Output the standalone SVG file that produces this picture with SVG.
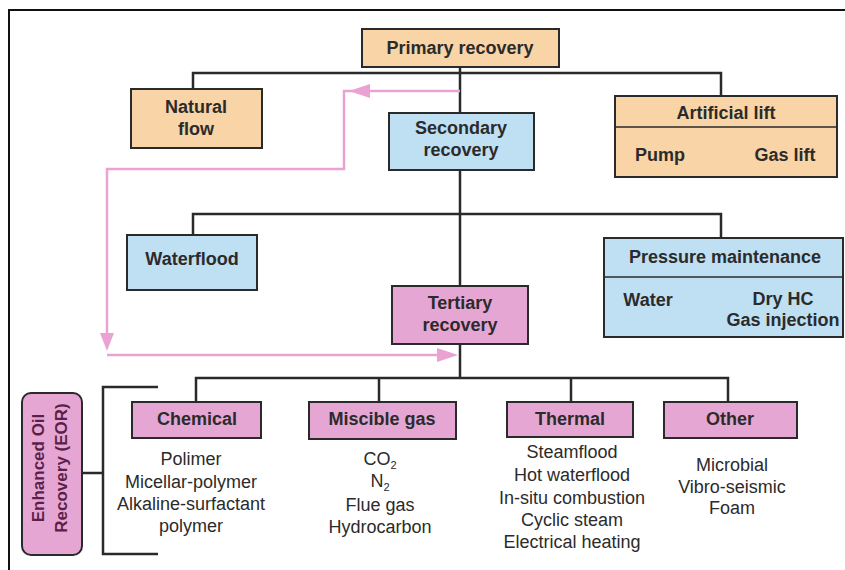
<svg xmlns="http://www.w3.org/2000/svg" width="845" height="570" viewBox="0 0 845 570">
<style>
.box{stroke:#2a2a2a;stroke-width:2}
.or{fill:#F9D4A6}
.bl{fill:#BFDFF2}
.pk{fill:#E6A6D3}
.lbl{font-family:"Liberation Sans",Arial,sans-serif;font-weight:bold;font-size:18px;fill:#2b2b2b;text-anchor:middle}
.lst{font-family:"Liberation Sans",Arial,sans-serif;font-size:18px;fill:#2b2b2b;text-anchor:middle}
.sub{font-size:11px}
.con{fill:none;stroke:#2a2a2a;stroke-width:2.5}
.pl{fill:none;stroke:#EAA2D2;stroke-width:2.5}
.ph{fill:#EAA2D2}
.eor{font-family:"Liberation Sans",Arial,sans-serif;font-weight:bold;font-size:17px;fill:#5a1f4a;text-anchor:middle}
</style>
<rect width="845" height="570" fill="#ffffff"/>
<path d="M9,570 V10 H845" fill="none" stroke="#111" stroke-width="2"/>

<g id="connectors">
<path class="con" d="M460,67 V113"/>
<path class="con" d="M193,89 V73 H721 V96"/>
<path class="con" d="M460,170 V286"/>
<path class="con" d="M193,235 V214 H721 V238"/>
<path class="con" d="M460,344 V378"/>
<path class="con" d="M196,402 V378 H728 V402"/>
<path class="con" d="M379,378 V402"/>
<path class="con" d="M571,378 V402"/>
<path class="con" d="M158,387 H103 V554 H158 M103,473 H82"/>
<path class="pl" d="M460,91 H344 V169 H107 V340"/>
<polygon class="ph" points="349,91 370,84 370,98"/>
<polygon class="ph" points="107,351 100,333 114,333"/>
<path class="pl" d="M107,355 H440"/>
<polygon class="ph" points="458,355 437,348 437,362"/>
</g>

<g id="primary">
<rect class="box or" x="362" y="29" width="197" height="38"/>
<text class="lbl" x="460" y="54">Primary recovery</text>
</g>
<g id="natural-flow">
<rect class="box or" x="131" y="89" width="131" height="59"/>
<text class="lbl" x="196" y="113">Natural</text>
<text class="lbl" x="196" y="135">flow</text>
</g>
<g id="artificial-lift">
<rect class="box or" x="615" y="96" width="222" height="81"/>
<line x1="615" y1="127" x2="837" y2="127" stroke="#2a2a2a" stroke-width="1.5"/>
<text class="lbl" x="726" y="119">Artificial lift</text>
<text class="lbl" x="660" y="161">Pump</text>
<text class="lbl" x="785" y="161">Gas lift</text>
</g>
<g id="secondary">
<rect class="box bl" x="389" y="113" width="145" height="57"/>
<text class="lbl" x="461" y="134">Secondary</text>
<text class="lbl" x="461" y="156">recovery</text>
</g>
<g id="waterflood">
<rect class="box bl" x="127" y="235" width="130" height="55"/>
<text class="lbl" x="192" y="265">Waterflood</text>
</g>
<g id="pressure-maintenance">
<rect class="box bl" x="604" y="238" width="239" height="99"/>
<line x1="604" y1="277" x2="843" y2="277" stroke="#2a2a2a" stroke-width="1.5"/>
<text class="lbl" x="725" y="263">Pressure maintenance</text>
<text class="lbl" x="648" y="306">Water</text>
<text class="lbl" x="783" y="305">Dry HC</text>
<text class="lbl" x="783" y="326">Gas injection</text>
</g>
<g id="tertiary">
<rect class="box pk" x="392" y="286" width="136" height="58"/>
<text class="lbl" x="460" y="309">Tertiary</text>
<text class="lbl" x="460" y="331">recovery</text>
</g>
<g id="eor">
<rect class="box pk" x="22" y="393" width="60" height="162" rx="9"/>
<text class="eor" transform="translate(44,468) rotate(-90)">Enhanced Oil</text>
<text class="eor" transform="translate(67,468) rotate(-90)">Recovery (EOR)</text>
</g>
<g id="chemical">
<rect class="box pk" x="132" y="402" width="129" height="36"/>
<text class="lbl" x="197" y="425">Chemical</text>
<text class="lst" x="191" y="465">Polimer</text>
<text class="lst" x="191" y="488">Micellar-polymer</text>
<text class="lst" x="191" y="510">Alkaline-surfactant</text>
<text class="lst" x="191" y="532">polymer</text>
</g>
<g id="miscible-gas">
<rect class="box pk" x="309" y="402" width="147" height="37"/>
<text class="lbl" x="382" y="425">Miscible gas</text>
<text class="lst" x="380" y="465">CO<tspan class="sub" dy="4">2</tspan></text>
<text class="lst" x="380" y="487">N<tspan class="sub" dy="4">2</tspan></text>
<text class="lst" x="380" y="511">Flue gas</text>
<text class="lst" x="380" y="533">Hydrocarbon</text>
</g>
<g id="thermal">
<rect class="box pk" x="507" y="402" width="126" height="35"/>
<text class="lbl" x="570" y="425">Thermal</text>
<text class="lst" x="572" y="458">Steamflood</text>
<text class="lst" x="572" y="481">Hot waterflood</text>
<text class="lst" x="572" y="504">In-situ combustion</text>
<text class="lst" x="572" y="526">Cyclic steam</text>
<text class="lst" x="572" y="548">Electrical heating</text>
</g>
<g id="other">
<rect class="box pk" x="664" y="402" width="133" height="36"/>
<text class="lbl" x="730" y="425">Other</text>
<text class="lst" x="732" y="471">Microbial</text>
<text class="lst" x="732" y="493">Vibro-seismic</text>
<text class="lst" x="732" y="514">Foam</text>
</g>
</svg>
